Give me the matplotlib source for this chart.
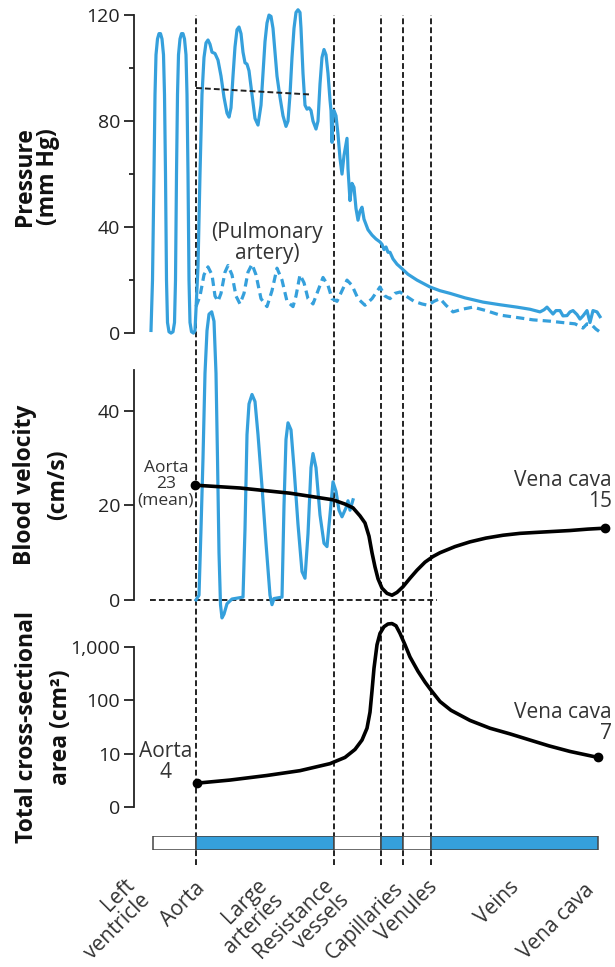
import matplotlib.pyplot as plt
from matplotlib.transforms import blended_transform_factory

plt.rcParams['font.family'] = ['Open Sans', 'DejaVu Sans']

BLUE = '#35a0dc'
INK = '#222222'
W, H = 615, 967

# horizontal position along the vascular tree (same units in every panel)
boundaries = [196, 334, 381, 403, 431]
track = [153, 196, 334, 381, 403, 431, 598]
track_blue = [False, True, False, True, False, True]

section_labels = [['Left', 'ventricle'], ['Aorta'], ['Large', 'arteries'], ['Resistance', 'vessels'],
                  ['Capillaries'], ['Venules'], ['Veins'], ['Vena cava']]

# pressure (mm Hg) - systemic trace
pressure_x = [151, 152.5, 154, 155, 156, 157.5, 159, 160.5, 162, 163.5, 164.5, 165.5, 166.5, 167.5,
              169, 171, 173, 174.5, 175.5, 176.5, 177.5, 178.5, 180, 181.5, 183, 184.5, 186, 187,
              188, 189, 190, 191.5, 193.5, 195,
              198, 200, 202, 204, 206, 208, 210, 212, 215, 218, 221, 224, 227, 229, 231, 233, 235,
              237, 239, 241, 243, 245, 247, 249, 252, 255, 258, 261, 263, 265, 267, 269, 271, 273,
              275, 277, 280, 283, 286, 288, 290, 292, 294, 296, 298, 300, 301, 303, 305, 307, 309,
              311, 313, 316, 318, 320, 322, 324, 326, 328, 330, 331, 332, 333, 334, 336, 338, 340,
              342, 344, 347, 348, 350, 352, 354, 356, 358, 360, 362, 364, 368, 372, 376, 380, 382,
              384, 386, 388, 390, 393, 397, 400, 408, 417, 430, 440, 450, 465, 483, 500, 517, 530,
              540, 544, 547, 550, 553, 556, 560, 563, 567, 570, 573, 577, 580, 583, 587, 590, 593,
              597, 600]
pressure_y = [1, 20, 60, 90, 105, 111, 113, 113, 111, 105, 90, 60, 20, 4,
              0.5, 0, 0.5, 4, 20, 60, 90, 105, 111, 113, 113, 111, 105, 90,
              60, 20, 4, 0.5, 0, 1,
              25, 60, 90, 104, 109.5, 110.6, 109, 106, 105.5, 103, 97, 89, 83, 81.5, 85, 97, 108,
              114.5, 115.5, 113, 106, 102, 101.5, 99, 90, 81, 78.5, 86, 98, 110, 117, 120, 119.5, 115,
              106, 97, 89, 82, 78, 80, 90, 104, 115, 121, 122, 121, 115, 98, 86, 84.5, 85,
              84, 80, 77, 80, 94, 104, 107, 105, 98, 88, 84, 72, 83.5, 84, 82, 75, 66,
              60, 67, 73.5, 62, 50, 56.5, 55, 47, 42.6, 46, 47.5, 43, 39, 37, 35.5, 34.4, 33.5,
              31.5, 32.5, 30.5, 30.5, 28, 26, 25, 22.2, 20, 17.4, 16, 15, 13.3, 11.7, 10.7, 9.8, 9,
              8, 8.8, 9.8, 8.5, 7.2, 8.5, 8.5, 6.5, 6.6, 8, 8.5, 7, 5.3, 6.5, 8.5, 4, 8.5,
              8, 6.2]

# pulmonary artery pressure (mm Hg)
pulmonary_x = [196, 200, 204, 208, 212, 215, 218, 221, 225, 228, 232, 236, 240, 244, 248, 252, 256,
               261, 267, 272, 277, 282, 287, 293, 296, 300, 304, 308, 313, 318, 323, 328, 332, 337,
               342, 347, 352, 358, 365, 372, 380, 385, 390, 395, 400, 406, 414, 422, 428, 434, 440,
               446, 453, 462, 473, 486, 500, 515, 533, 550, 567, 575, 580, 583, 587, 592, 596, 600]
pulmonary_y = [10, 14, 22, 25, 22, 14, 12, 15, 23, 25.5, 22, 14, 11, 15, 23, 26, 22,
               13, 10, 16, 24.5, 20, 12, 10, 14, 22, 19, 13, 11, 16, 21, 18, 13, 12,
               16, 20, 18, 13, 10.5, 13, 17.4, 14, 13, 15, 15.5, 14, 12, 11, 10.5, 12, 13,
               10.5, 8, 9, 9.8, 8.5, 6.8, 6, 5, 4.5, 3.8, 3.5, 2.5, 1.9, 3.5, 3, 1.5, 0.4]

mean_pressure_x = [196, 312]
mean_pressure_y = [92.5, 90]

# blood velocity (cm/s) - pulsatile trace
velocity_x = [196, 199, 201, 203, 205, 207, 209, 211.7, 214, 216, 217.5, 219, 220.5, 222, 224, 227,
              232, 243, 245, 247, 249, 252, 255, 258, 262, 266, 270, 272, 274, 282, 284, 286, 288,
              291, 294, 298, 302, 305, 308, 311, 313, 316, 320, 324, 327, 330, 333, 336, 339, 342,
              346, 348, 350, 353]
velocity_y = [0, 1, 15, 30, 48, 57, 60.5, 61, 59, 48, 30, 10, -1, -3.8, -3, -0.8,
              0.2, 0.6, 15, 35, 41.5, 43.5, 42, 35, 24, 12, 1, -1, 0.3, 0.6, 20, 34, 37.5,
              36, 28, 16, 6, 4.6, 14, 28, 31, 28, 18, 12, 11.3, 18, 25, 23, 19, 17.6,
              19.5, 21, 19, 21.2]

# mean velocity (cm/s)
mean_velocity_x = [195, 240, 290, 333, 345, 353, 360, 365, 369, 372, 375, 378, 382, 387, 392, 397,
                   403, 410, 417, 425, 433, 440, 455, 470, 486, 503, 520, 536, 553, 570, 588, 605]
mean_velocity_y = [24.3, 23.7, 22.6, 21.2, 20.3, 19.5, 17.8, 16.3, 13.5, 10, 7, 4.5, 2.5, 1.4, 1.0, 1.6,
                   2.8, 4.6, 6.3, 8.0, 9.2, 10.0, 11.3, 12.3, 13.1, 13.7, 14.1, 14.3, 14.5, 14.7,
                   15.0, 15.2]

# total cross-sectional area (cm2)
area_x = [197, 230, 267, 300, 330, 345, 355, 362, 367, 370, 372, 374, 377, 380, 384, 388, 392, 396,
          400, 405, 410, 418, 425, 431, 440, 451, 470, 490, 510, 530, 549, 570, 598]
area_y = [2.8, 3.2, 3.9, 4.8, 6.5, 8.5, 12, 18, 30, 60, 150, 400, 1100, 1800, 2400, 2700, 2750, 2500,
          1800, 1100, 650, 350, 220, 155, 95, 65, 42, 30, 23.5, 18, 14, 11, 8.5]


def fy(py):
    return 1 - py / H


fig = plt.figure(figsize=(W / 100, H / 100), dpi=100)


def panel(top, bottom):
    ax = fig.add_axes([134 / W, fy(bottom), 1 - 134 / W, (bottom - top) / H])
    ax.set_xlim(134, W)
    ax.patch.set_alpha(0)
    for s in ('top', 'right', 'bottom'):
        ax.spines[s].set_visible(False)
    ax.spines['left'].set_color(INK)
    ax.spines['left'].set_linewidth(1.3)
    ax.set_xticks([])
    ax.tick_params(axis='y', which='major', direction='out', length=7, width=1.3, color=INK,
                   labelsize=14, pad=3, labelcolor=INK)
    ax.tick_params(axis='y', which='minor', direction='out', length=3.5, width=1.3, color=INK)
    return ax


dash = (0, (3, 1.6))

# vertical guides
ax_g = panel(15, 865)
ax_g.axis('off')
ax_g.set_ylim(0, 1)
ax_g.vlines(boundaries, 0, 1, colors=INK, lw=1.4, linestyles=[dash])

# pressure
ax_p = panel(5, 340)
ax_p.set_ylim(-2.6, 123.8)
ax_p.spines['left'].set_bounds(0, 120)
ax_p.set_yticks([0, 40, 80, 120])
ax_p.set_yticks([20, 60, 100], minor=True)
ax_p.plot(pressure_x, pressure_y, color=BLUE, lw=2.3, solid_joinstyle='round')
ax_p.plot(pulmonary_x, pulmonary_y, color=BLUE, lw=2.3, linestyle=(0, (2.6, 1.6)))
ax_p.plot(mean_pressure_x, mean_pressure_y, color=INK, lw=1.4, linestyle=dash)
ax_p.text(267, 34, '(Pulmonary\nartery)', ha='center', va='center', fontsize=15,
          linespacing=1.0, color='#333333')

# velocity
ax_v = panel(300, 625)
ax_v.set_ylim(-5.3, 63.5)
ax_v.spines['left'].set_bounds(0, 48.7)
ax_v.set_yticks([0, 20, 40])
ax_v.hlines(0, 150, 437, colors=INK, lw=1.4, linestyles=[dash])
ax_v.plot(velocity_x, velocity_y, color=BLUE, lw=2.3, solid_joinstyle='round')
ax_v.plot(mean_velocity_x, mean_velocity_y, color='black', lw=2.6, solid_capstyle='round',
          solid_joinstyle='round')
ax_v.plot([mean_velocity_x[0], mean_velocity_x[-1]], [mean_velocity_y[0], mean_velocity_y[-1]],
          'o', color='black', ms=6)
ax_v.text(166, 24.5, 'Aorta\n23\n(mean)', ha='center', va='center', fontsize=12.5,
          linespacing=1.05, color='#333333')
ax_v.text(612, 23, 'Vena cava\n15', ha='right', va='center', fontsize=15,
          linespacing=1.0, color='#333333', multialignment='right')

# cross-sectional area
ax_a = panel(615, 815)
ax_a.set_yscale('log')
ax_a.set_ylim(10 ** -0.15, 10 ** 3.6)
ax_a.spines['left'].set_bounds(1, 1000)
ax_a.set_yticks([1, 10, 100, 1000], ['0', '10', '100', '1,000'])
ax_a.minorticks_off()
ax_a.plot(area_x, area_y, color='black', lw=2.6, solid_capstyle='round', solid_joinstyle='round')
ax_a.plot([area_x[0], area_x[-1]], [area_y[0], area_y[-1]], 'o', color='black', ms=6)
ax_a.text(166, 6.9, 'Aorta\n4', ha='center', va='center', fontsize=15, linespacing=1.0,
          color='#333333')
ax_a.text(612, 38, 'Vena cava\n7', ha='right', va='center', fontsize=15, linespacing=1.0,
          color='#333333', multialignment='right')

# vessel track
ax_b = panel(836, 850)
ax_b.axis('off')
ax_b.set_ylim(0, 1)
for left, right, filled in zip(track[:-1], track[1:], track_blue):
    ax_b.barh(0.5, right - left, left=left, height=1, color=BLUE if filled else 'white',
              edgecolor='#444444', lw=1.1)

# section names: right end of the first line's baseline, later lines step down-right
label_x = [135, 206, 268, 334, 404, 438, 520, 595]
label_y = [886, 889, 886, 886, 889, 888, 888, 891]
line_step = 15.5
trans = blended_transform_factory(ax_b.transData, fig.transFigure)
for lx, ly, lines in zip(label_x, label_y, section_labels):
    for i, line in enumerate(lines):
        ax_b.text(lx + i * line_step, fy(ly + i * line_step), line, transform=trans,
                  rotation=45, rotation_mode='anchor', ha='right', va='baseline',
                  fontsize=15, color='#333333')

# axis titles
for px, py, txt in [(25, 177, 'Pressure'), (48, 177, '(mm Hg)'),
                    (25, 485, 'Blood velocity'), (58, 485, '(cm/s)'),
                    (27, 727, 'Total cross-sectional'), (61, 727, 'area (cm²)')]:
    fig.text(px / W, fy(py), txt, rotation=90, ha='center', va='center', fontsize=16.5,
             fontweight='bold', color='#111111')

fig.savefig('out.png', dpi=100)
